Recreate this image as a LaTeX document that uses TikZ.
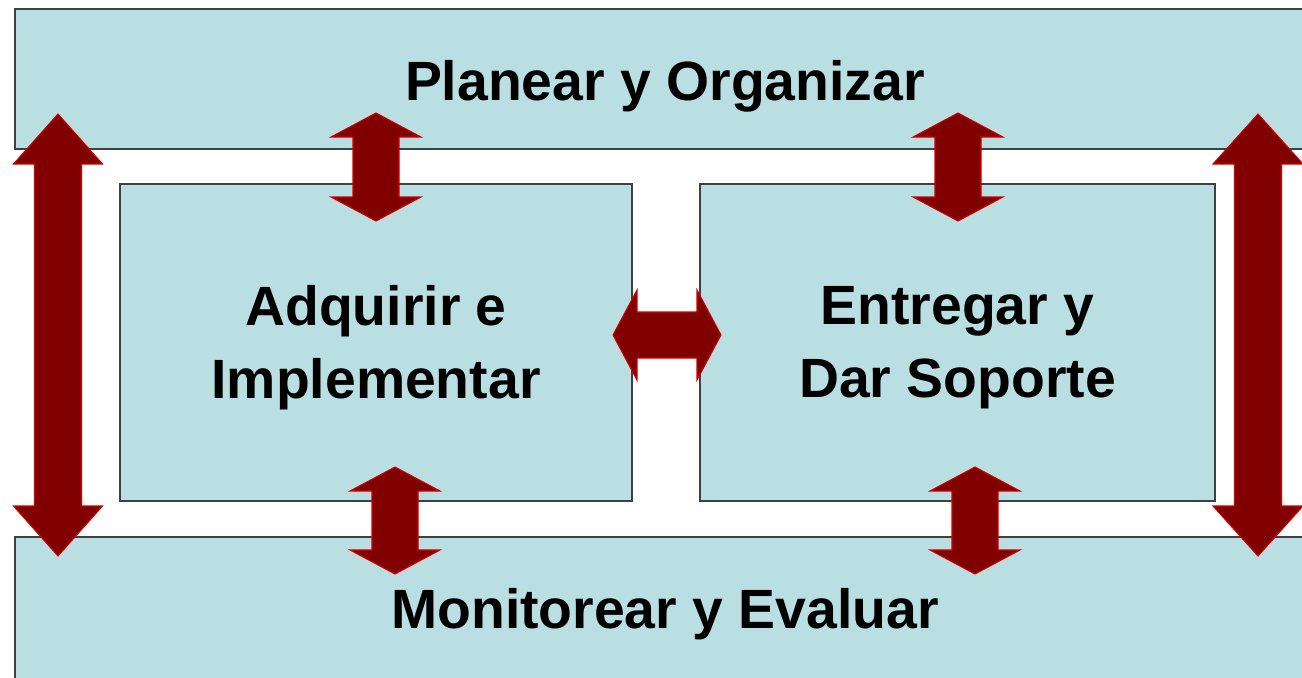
\documentclass[tikz,border=0pt]{standalone}
\usepackage{fontspec}
\setmainfont{Liberation Sans}
\usepackage{tikz}
\usetikzlibrary{positioning}
\definecolor{panelfill}{RGB}{185,223,227}
\definecolor{arrowfill}{RGB}{128,0,0}
\definecolor{arrowedge}{RGB}{210,0,0}
\tikzset{font=\bfseries\fontsize{31.5}{41.5}\selectfont}
\tikzset{panel/.style={draw=black!75, line width=1pt, fill=panelfill, inner sep=0pt}}
\tikzset{blockarrow/.style={fill=arrowfill, draw=arrowedge, line width=.6pt, line join=miter}}
\tikzset{caption/.style={align=center, inner sep=0pt}}
% vertical double block arrow: x, top tip, bottom tip, half shaft, half head, head length
\newcommand{\vblock}[6]{%
  \draw[blockarrow] ({#1-#4},{#2+#6}) -- ({#1-#5},{#2+#6}) -- (#1,#2)
    -- ({#1+#5},{#2+#6}) -- ({#1+#4},{#2+#6}) -- ({#1+#4},{#3-#6})
    -- ({#1+#5},{#3-#6}) -- (#1,#3) -- ({#1-#5},{#3-#6})
    -- ({#1-#4},{#3-#6}) -- cycle;}
% horizontal double block arrow: y, left tip, right tip, half shaft, half head, head length
\newcommand{\hblock}[6]{%
  \draw[blockarrow] ({#2+#6},{#1-#4}) -- ({#2+#6},{#1-#5}) -- (#2,#1)
    -- ({#2+#6},{#1+#5}) -- ({#2+#6},{#1+#4}) -- ({#3-#6},{#1+#4})
    -- ({#3-#6},{#1+#5}) -- (#3,#1) -- ({#3-#6},{#1-#5})
    -- ({#3-#6},{#1-#4}) -- cycle;}
\begin{document}
\begin{tikzpicture}[x=0.02cm, y=-0.02cm]
  \useasboundingbox (0,0) rectangle (1302,677);
  \fill[white] (0,0) rectangle (1302,677);
  % bands and boxes
  \node[panel, minimum width=26.3cm, minimum height=2.8cm] (plan) at (672.5,79) {};
  \node[panel, minimum width=26.3cm, minimum height=3.26cm] (monitor) at (672.5,618.5) {};
  \node[panel, minimum width=10.24cm, minimum height=6.34cm] (acquire) at (376,342.5) {};
  \node[panel, minimum width=10.3cm, minimum height=6.34cm] (deliver) at (957.5,342.5) {};
  % texts
  \node[caption, anchor=base] (plantext) at (665,100) {Planear y Organizar};
  \node[caption, anchor=base] (monitortext) at (665,628) {Monitorear y Evaluar};
  \node[caption, yshift=-0.1cm] (acquiretext) at (acquire) {Adquirir e\\Implementar};
  \node[caption, yshift=-0.1cm] (delivertext) at (deliver) {Entregar y\\Dar Soporte};
  % arrows
  \vblock{58}{114}{556}{23.5}{44.5}{50}
  \vblock{1258}{114}{556}{23.5}{45}{50}
  \vblock{376}{113}{221}{23}{45}{24}
  \vblock{958}{113}{221}{23}{45}{24}
  \vblock{395}{467}{574}{23}{45}{24}
  \vblock{975}{467}{574}{23}{45}{24}
  \hblock{335}{613}{721}{23}{45}{24}
\end{tikzpicture}
\end{document}
